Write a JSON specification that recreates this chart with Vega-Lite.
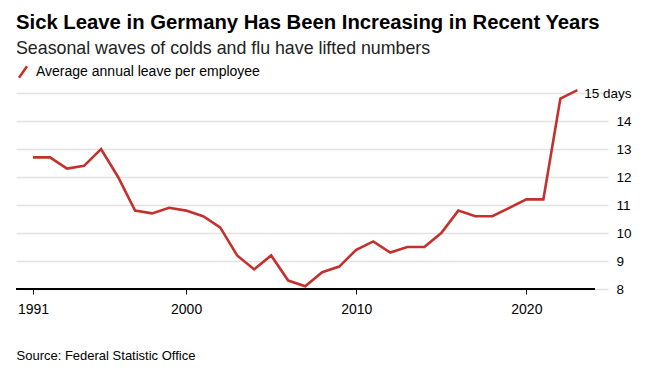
{
  "$schema": "https://vega.github.io/schema/vega-lite/v6.json",
  "width": 592,
  "height": 196,
  "autosize": {"type": "none"},
  "padding": {"left": 16, "top": 93, "right": 55, "bottom": 85},
  "background": "white",
  "config": {
    "font": "Liberation Sans",
    "view": {"stroke": null}
  },
  "title": {
    "text": "Sick Leave in Germany Has Been Increasing in Recent Years",
    "subtitle": "Seasonal waves of colds and flu have lifted numbers",
    "anchor": "start",
    "frame": "group",
    "font": "Liberation Sans",
    "fontSize": 20.3,
    "fontWeight": "bold",
    "color": "#000000",
    "subtitleFont": "Liberation Sans",
    "subtitleFontSize": 17.8,
    "subtitleColor": "#222222",
    "subtitlePadding": 7,
    "offset": 7
  },
  "data": {
    "values": [
      {"year": 1991, "value": 12.7, "series": "Average annual leave per employee"},
      {"year": 1992, "value": 12.7, "series": "Average annual leave per employee"},
      {"year": 1993, "value": 12.3, "series": "Average annual leave per employee"},
      {"year": 1994, "value": 12.4, "series": "Average annual leave per employee"},
      {"year": 1995, "value": 13.0, "series": "Average annual leave per employee"},
      {"year": 1996, "value": 12.0, "series": "Average annual leave per employee"},
      {"year": 1997, "value": 10.8, "series": "Average annual leave per employee"},
      {"year": 1998, "value": 10.7, "series": "Average annual leave per employee"},
      {"year": 1999, "value": 10.9, "series": "Average annual leave per employee"},
      {"year": 2000, "value": 10.8, "series": "Average annual leave per employee"},
      {"year": 2001, "value": 10.6, "series": "Average annual leave per employee"},
      {"year": 2002, "value": 10.2, "series": "Average annual leave per employee"},
      {"year": 2003, "value": 9.2, "series": "Average annual leave per employee"},
      {"year": 2004, "value": 8.7, "series": "Average annual leave per employee"},
      {"year": 2005, "value": 9.2, "series": "Average annual leave per employee"},
      {"year": 2006, "value": 8.3, "series": "Average annual leave per employee"},
      {"year": 2007, "value": 8.1, "series": "Average annual leave per employee"},
      {"year": 2008, "value": 8.6, "series": "Average annual leave per employee"},
      {"year": 2009, "value": 8.8, "series": "Average annual leave per employee"},
      {"year": 2010, "value": 9.4, "series": "Average annual leave per employee"},
      {"year": 2011, "value": 9.7, "series": "Average annual leave per employee"},
      {"year": 2012, "value": 9.3, "series": "Average annual leave per employee"},
      {"year": 2013, "value": 9.5, "series": "Average annual leave per employee"},
      {"year": 2014, "value": 9.5, "series": "Average annual leave per employee"},
      {"year": 2015, "value": 10.0, "series": "Average annual leave per employee"},
      {"year": 2016, "value": 10.8, "series": "Average annual leave per employee"},
      {"year": 2017, "value": 10.6, "series": "Average annual leave per employee"},
      {"year": 2018, "value": 10.6, "series": "Average annual leave per employee"},
      {"year": 2019, "value": 10.9, "series": "Average annual leave per employee"},
      {"year": 2020, "value": 11.2, "series": "Average annual leave per employee"},
      {"year": 2021, "value": 11.2, "series": "Average annual leave per employee"},
      {"year": 2022, "value": 14.8, "series": "Average annual leave per employee"},
      {"year": 2023, "value": 15.1, "series": "Average annual leave per employee"}
    ]
  },
  "layer": [
    {
      "mark": {"type": "line", "strokeWidth": 2.6, "strokeJoin": "miter"},
      "encoding": {
        "x": {
          "field": "year",
          "type": "quantitative",
          "scale": {"domain": [1990, 2024.8], "nice": false, "zero": false},
          "axis": {
            "values": [1991, 2000, 2010, 2020],
            "format": "d",
            "domain": false,
            "grid": false,
            "ticks": true,
            "tickSize": 5,
            "tickColor": "#000000",
            "tickWidth": 1,
            "labelFontSize": 14,
            "labelColor": "#000000",
            "labelPadding": 8,
            "labelFlush": false,
            "labelOverlap": false,
            "title": "Source: Federal Statistic Office",
            "titleAnchor": "start",
            "titleAlign": "left",
            "titleFontSize": 13,
            "titleFontWeight": "normal",
            "titleColor": "#000000",
            "titlePadding": 33
          }
        },
        "y": {
          "field": "value",
          "type": "quantitative",
          "scale": {"domain": [8, 15], "nice": false, "zero": false},
          "axis": {
            "orient": "right",
            "values": [8, 9, 10, 11, 12, 13, 14, 15],
            "labelExpr": "datum.value == 15 ? '15 days' : datum.label",
            "labelOverlap": false,
            "domain": false,
            "ticks": false,
            "grid": true,
            "gridColor": "#e2e2e2",
            "gridWidth": 1.5,
            "labelFontSize": 13.5,
            "labelColor": "#000000",
            "labelAlign": {"condition": {"test": "datum.value == 15", "value": "right"}, "value": "left"},
            "labelPadding": {"condition": {"test": "datum.value == 15", "value": 23}, "value": 8},
            "title": null
          }
        },
        "color": {
          "field": "series",
          "type": "nominal",
          "scale": {"range": ["#c4302b"]},
          "legend": {
            "orient": "top",
            "title": null,
            "offset": 2,
            "symbolType": "M-0.7,1L0.7,-1",
            "symbolStrokeWidth": 2.5,
            "symbolSize": 130,
            "labelFontSize": 14,
            "labelLimit": 400,
            "labelColor": "#000000",
            "labelOffset": 6
          }
        }
      }
    },
    {
      "mark": {"type": "rule", "color": "#000000", "strokeWidth": 1.2},
      "encoding": {
        "x": {
          "datum": 1990,
          "type": "quantitative",
          "axis": {
            "values": [1991, 2000, 2010, 2020],
            "format": "d",
            "domain": false,
            "grid": false,
            "ticks": true,
            "tickSize": 5,
            "tickColor": "#000000",
            "tickWidth": 1,
            "labelFontSize": 14,
            "labelColor": "#000000",
            "labelPadding": 8,
            "labelFlush": false,
            "labelOverlap": false,
            "title": "Source: Federal Statistic Office",
            "titleAnchor": "start",
            "titleAlign": "left",
            "titleFontSize": 13,
            "titleFontWeight": "normal",
            "titleColor": "#000000",
            "titlePadding": 33
          }
        },
        "x2": {"datum": 2024},
        "y": {
          "datum": 8,
          "type": "quantitative",
          "axis": {
            "orient": "right",
            "values": [8, 9, 10, 11, 12, 13, 14, 15],
            "labelExpr": "datum.value == 15 ? '15 days' : datum.label",
            "labelOverlap": false,
            "domain": false,
            "ticks": false,
            "grid": true,
            "gridColor": "#e2e2e2",
            "gridWidth": 1.5,
            "labelFontSize": 13.5,
            "labelColor": "#000000",
            "labelAlign": {"condition": {"test": "datum.value == 15", "value": "right"}, "value": "left"},
            "labelPadding": {"condition": {"test": "datum.value == 15", "value": 23}, "value": 8},
            "title": null
          }
        }
      }
    }
  ]
}
